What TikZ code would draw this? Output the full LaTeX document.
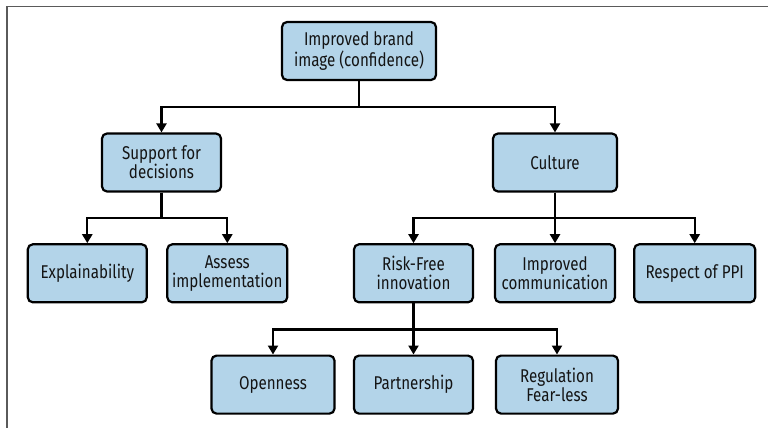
\documentclass[tikz,border=0pt]{standalone}
\usepackage{fontspec}
\setmainfont[FakeStretch=0.82]{Fira Sans}
\usetikzlibrary{arrows.meta}
\usepackage{xcolor}
\definecolor{boxblue}{RGB}{179,212,233}
\definecolor{ink}{RGB}{20,20,20}
\definecolor{framegray}{RGB}{90,90,90}

\begin{document}
\begin{tikzpicture}[x=1pt,y=-1pt,
    block/.style={draw=black, line width=2.2pt, fill=boxblue, rounded corners=5pt,
        minimum height=58pt, align=center, text=ink, inner sep=2pt,
        font=\fontsize{18.5}{19}\selectfont},
    link/.style={line width=2.2pt, -{Triangle[width=10pt,length=9pt]}}]
        \useasboundingbox (0,0) rectangle (768,428);
        % frame
        \draw[framegray, line width=1.5pt] (768,6.5) -- (7,6.5) -- (7,428);
        % boxes
        \node[block, minimum width=154pt] (brand) at (359,51) {Improved brand\\image (confidence)};
        \node[block, minimum width=119pt] (support) at (161.5,162.5) {Support for\\decisions};
        \node[block, minimum width=124pt] (culture) at (555,162.5) {Culture};
        \node[block, minimum width=119pt] (explain) at (87.3,273.3) {Explainability};
        \node[block, minimum width=120pt] (assess) at (227.3,273.3) {Assess\\implementation};
        \node[block, minimum width=119pt] (risk) at (413.5,273.3) {Risk-Free\\innovation};
        \node[block, minimum width=120pt] (comm) at (555,273.3) {Improved\\communication};
        \node[block, minimum width=121pt] (respect) at (694.7,273.3) {Respect of PPI};
        \node[block, minimum width=123pt] (open) at (273,384.6) {Openness};
        \node[block, minimum width=119pt] (partner) at (413.5,384.6) {Partnership};
        \node[block, minimum width=122pt] (regul) at (557,384.6) {Regulation\\Fear-less};
        % links
        \draw[link] (brand.south) -- ++(0,26) -| (support.north);
        \draw[link] (brand.south) -- ++(0,26) -| (culture.north);
        \draw[link] (support.south) -- ++(0,25) -| (explain.north);
        \draw[link] (support.south) -- ++(0,25) -| (assess.north);
        \draw[link] (culture.south) -- ++(0,25) -| (risk.north);
        \draw[link] (culture.south) -- (comm.north);
        \draw[link] (culture.south) -- ++(0,25) -| (respect.north);
        \draw[link] (risk.south) -- ++(0,26) -| (open.north);
        \draw[link] (risk.south) -- (partner.north);
        \draw[link] (risk.south) -- ++(0,26) -| (regul.north);
    \end{tikzpicture}
\end{document}
